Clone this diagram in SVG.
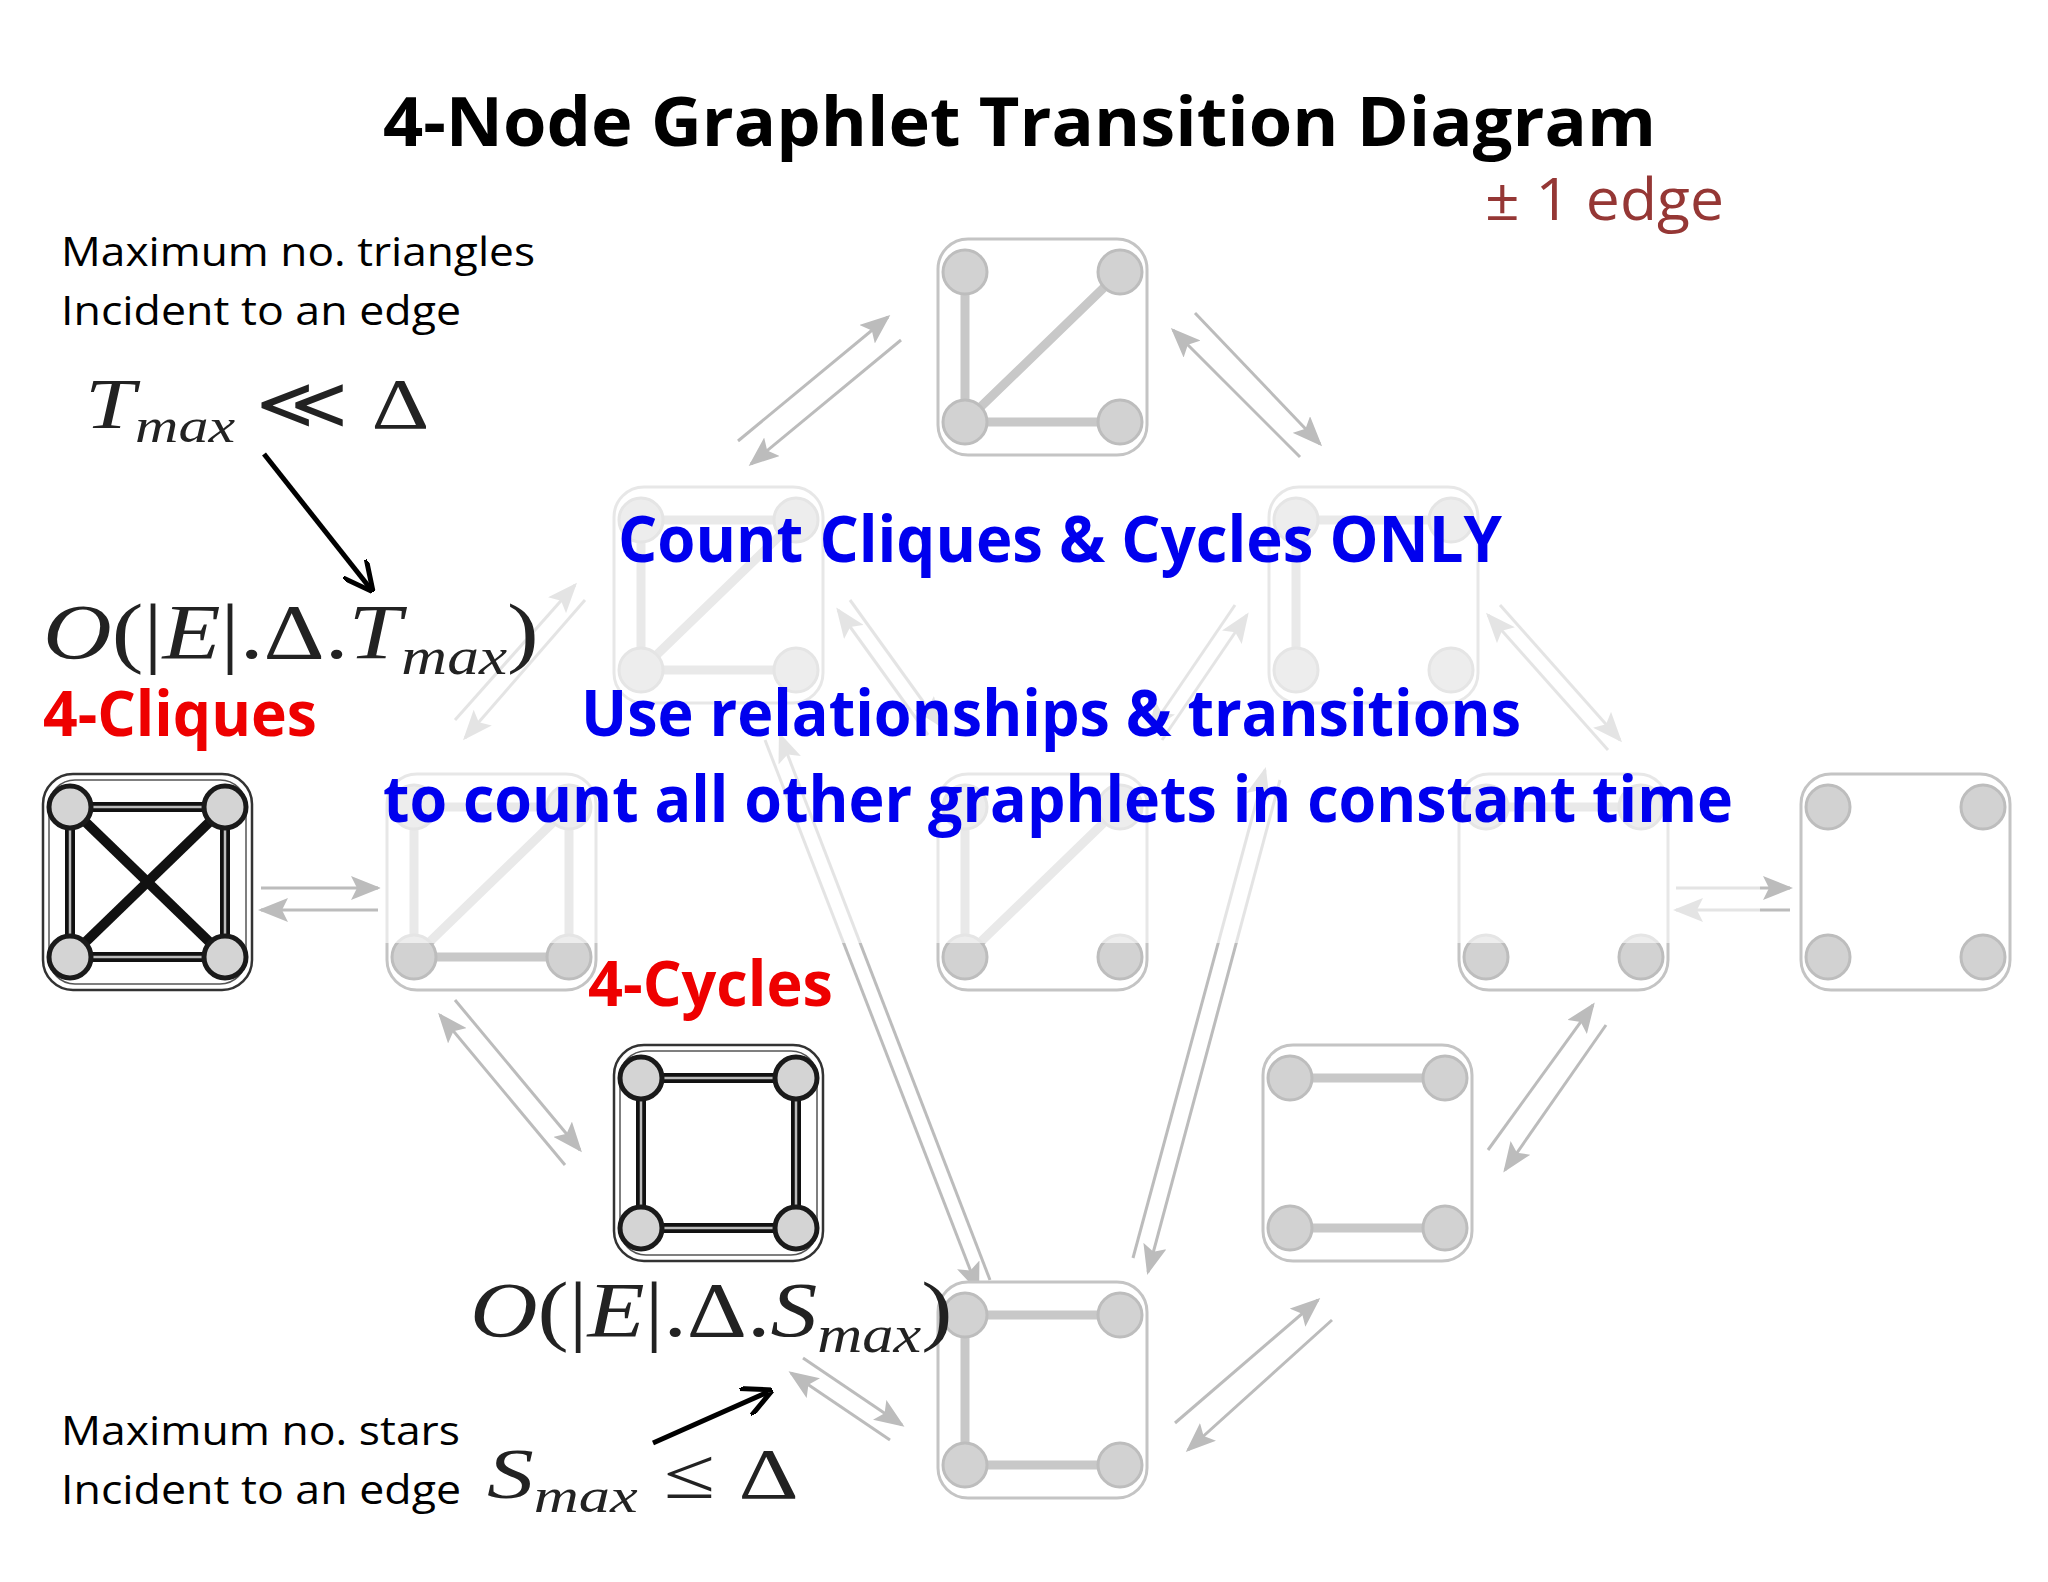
<svg xmlns="http://www.w3.org/2000/svg" width="2048" height="1582" viewBox="0 0 2048 1582">
<defs>
<style>
.box{fill:#fff;stroke:#c4c4c4;stroke-width:3}
.e{stroke:#c8c8c8;stroke-width:9;stroke-linecap:round}
.v{fill:#d2d2d2;stroke:#bdbdbd;stroke-width:3}
.bbox{fill:#fff;stroke:#333;stroke-width:2.5}
.be{stroke:#111;stroke-width:10}
.bi{stroke:#bbb;stroke-width:2.5}
.bv{fill:#d4d4d4;stroke:#1a1a1a;stroke-width:5}
.a{stroke:#bcbcbc;stroke-width:3;fill:none;marker-end:url(#ga)}
.k{stroke:#000;stroke-width:5;fill:none;marker-end:url(#ka)}
.t{font-family:"Open Sans","Noto Sans",sans-serif}
.bl{font-family:"Open Sans","Noto Sans",sans-serif;font-weight:bold;fill:#0000ee;font-size:64px}
.rd{font-family:"Open Sans","Noto Sans",sans-serif;font-weight:bold;fill:#ee0000;font-size:62px}
.m{font-family:"Liberation Serif",serif;fill:#222}
</style>
<marker id="ga" markerWidth="10" markerHeight="8" refX="9" refY="4" orient="auto" markerUnits="strokeWidth"><path d="M0,0 L10,4 L0,8 L2,4 z" fill="#bcbcbc"/></marker>
<marker id="ka" markerWidth="6" markerHeight="6" refX="5" refY="3" orient="auto" markerUnits="strokeWidth"><path d="M0,0 L6,3 L0,6" fill="none" stroke="#000" stroke-width="1"/></marker>
</defs>
<rect width="2048" height="1582" fill="#fff"/>

<g id="connectors">
<line class="a" x1="738" y1="441" x2="888" y2="317"/>
<line class="a" x1="901" y1="340" x2="751" y2="464"/>
<line class="a" x1="1300" y1="457" x2="1173" y2="330"/>
<line class="a" x1="1195" y1="313" x2="1320" y2="444"/>
<line class="a" x1="455" y1="720" x2="575" y2="585"/>
<line class="a" x1="585" y1="600" x2="465" y2="738"/>
<line class="a" x1="850" y1="600" x2="940" y2="725"/>
<line class="a" x1="928" y1="735" x2="838" y2="610"/>
<line class="a" x1="1235" y1="605" x2="1150" y2="730"/>
<line class="a" x1="1162" y1="740" x2="1247" y2="615"/>
<line class="a" x1="1500" y1="605" x2="1620" y2="740"/>
<line class="a" x1="1608" y1="750" x2="1488" y2="615"/>
<line class="a" x1="261" y1="888" x2="378" y2="888"/>
<line class="a" x1="378" y1="910" x2="261" y2="910"/>
<line class="a" x1="1676" y1="888" x2="1790" y2="888"/>
<line class="a" x1="1790" y1="910" x2="1676" y2="910"/>
<line class="a" x1="455" y1="1000" x2="580" y2="1150"/>
<line class="a" x1="565" y1="1165" x2="440" y2="1015"/>
<line class="a" x1="765" y1="740" x2="978" y2="1290"/>
<line class="a" x1="990" y1="1280" x2="780" y2="735"/>
<line class="a" x1="1280" y1="780" x2="1148" y2="1272"/>
<line class="a" x1="1133" y1="1258" x2="1265" y2="770"/>
<line class="a" x1="1175" y1="1423" x2="1318" y2="1300"/>
<line class="a" x1="1332" y1="1320" x2="1188" y2="1450"/>
<line class="a" x1="1488" y1="1150" x2="1593" y2="1005"/>
<line class="a" x1="1606" y1="1025" x2="1505" y2="1170"/>
<line class="a" x1="803" y1="1358" x2="902" y2="1425"/>
<line class="a" x1="890" y1="1440" x2="791" y2="1373"/>
<line class="k" x1="264" y1="454" x2="370" y2="588"/>
<line class="k" x1="653" y1="1443" x2="768" y2="1392"/>
</g>

<g id="n-top" transform="translate(938,239)"><rect class="box" width="209" height="216" rx="30"/><line class="e" x1="27" y1="33" x2="27" y2="183"/><line class="e" x1="27" y1="183" x2="182" y2="183"/><line class="e" x1="27" y1="183" x2="182" y2="33"/><circle class="v" cx="27" cy="33" r="22"/><circle class="v" cx="182" cy="33" r="22"/><circle class="v" cx="27" cy="183" r="22"/><circle class="v" cx="182" cy="183" r="22"/></g>
<g id="n-a" transform="translate(614,487)"><rect class="box" width="209" height="216" rx="30"/><line class="e" x1="27" y1="33" x2="182" y2="33"/><line class="e" x1="27" y1="33" x2="27" y2="183"/><line class="e" x1="27" y1="183" x2="182" y2="183"/><line class="e" x1="27" y1="183" x2="182" y2="33"/><circle class="v" cx="27" cy="33" r="22"/><circle class="v" cx="182" cy="33" r="22"/><circle class="v" cx="27" cy="183" r="22"/><circle class="v" cx="182" cy="183" r="22"/></g>
<g id="n-b" transform="translate(1269,487)"><rect class="box" width="209" height="216" rx="30"/><line class="e" x1="27" y1="33" x2="182" y2="33"/><line class="e" x1="27" y1="33" x2="27" y2="183"/><circle class="v" cx="27" cy="33" r="22"/><circle class="v" cx="182" cy="33" r="22"/><circle class="v" cx="27" cy="183" r="22"/><circle class="v" cx="182" cy="183" r="22"/></g>
<g id="n-clique" transform="translate(43,774)"><rect class="bbox" width="209" height="216" rx="30"/><rect x="6" y="6" width="197" height="204" rx="26" fill="none" stroke="#555" stroke-width="1.5"/><g class="be"><line x1="27" y1="33" x2="182" y2="33"/><line x1="27" y1="183" x2="182" y2="183"/><line x1="27" y1="33" x2="27" y2="183"/><line x1="182" y1="33" x2="182" y2="183"/><line x1="27" y1="33" x2="182" y2="183"/><line x1="182" y1="33" x2="27" y2="183"/></g><g class="bi"><line x1="27" y1="33" x2="182" y2="33"/><line x1="27" y1="183" x2="182" y2="183"/><line x1="27" y1="33" x2="27" y2="183"/><line x1="182" y1="33" x2="182" y2="183"/></g><circle class="bv" cx="27" cy="33" r="21"/><circle class="bv" cx="182" cy="33" r="21"/><circle class="bv" cx="27" cy="183" r="21"/><circle class="bv" cx="182" cy="183" r="21"/></g>
<g id="n-c" transform="translate(387,774)"><rect class="box" width="209" height="216" rx="30"/><line class="e" x1="27" y1="33" x2="182" y2="33"/><line class="e" x1="27" y1="33" x2="27" y2="183"/><line class="e" x1="182" y1="33" x2="182" y2="183"/><line class="e" x1="27" y1="183" x2="182" y2="183"/><line class="e" x1="27" y1="183" x2="182" y2="33"/><circle class="v" cx="27" cy="33" r="22"/><circle class="v" cx="182" cy="33" r="22"/><circle class="v" cx="27" cy="183" r="22"/><circle class="v" cx="182" cy="183" r="22"/></g>
<g id="n-d" transform="translate(938,774)"><rect class="box" width="209" height="216" rx="30"/><line class="e" x1="27" y1="33" x2="27" y2="183"/><line class="e" x1="27" y1="183" x2="182" y2="33"/><circle class="v" cx="27" cy="33" r="22"/><circle class="v" cx="182" cy="33" r="22"/><circle class="v" cx="27" cy="183" r="22"/><circle class="v" cx="182" cy="183" r="22"/></g>
<g id="n-e" transform="translate(1459,774)"><rect class="box" width="209" height="216" rx="30"/><line class="e" x1="27" y1="33" x2="182" y2="33"/><circle class="v" cx="27" cy="33" r="22"/><circle class="v" cx="182" cy="33" r="22"/><circle class="v" cx="27" cy="183" r="22"/><circle class="v" cx="182" cy="183" r="22"/></g>
<g id="n-f" transform="translate(1801,774)"><rect class="box" width="209" height="216" rx="30"/><circle class="v" cx="27" cy="33" r="22"/><circle class="v" cx="182" cy="33" r="22"/><circle class="v" cx="27" cy="183" r="22"/><circle class="v" cx="182" cy="183" r="22"/></g>
<g id="n-cycle" transform="translate(614,1045)"><rect class="bbox" width="209" height="216" rx="30"/><rect x="6" y="6" width="197" height="204" rx="26" fill="none" stroke="#555" stroke-width="1.5"/><g class="be"><line x1="27" y1="33" x2="182" y2="33"/><line x1="27" y1="183" x2="182" y2="183"/><line x1="27" y1="33" x2="27" y2="183"/><line x1="182" y1="33" x2="182" y2="183"/></g><g class="bi"><line x1="27" y1="33" x2="182" y2="33"/><line x1="27" y1="183" x2="182" y2="183"/><line x1="27" y1="33" x2="27" y2="183"/><line x1="182" y1="33" x2="182" y2="183"/></g><circle class="bv" cx="27" cy="33" r="21"/><circle class="bv" cx="182" cy="33" r="21"/><circle class="bv" cx="27" cy="183" r="21"/><circle class="bv" cx="182" cy="183" r="21"/></g>
<g id="n-g" transform="translate(1263,1045)"><rect class="box" width="209" height="216" rx="30"/><line class="e" x1="27" y1="33" x2="182" y2="33"/><line class="e" x1="27" y1="183" x2="182" y2="183"/><circle class="v" cx="27" cy="33" r="22"/><circle class="v" cx="182" cy="33" r="22"/><circle class="v" cx="27" cy="183" r="22"/><circle class="v" cx="182" cy="183" r="22"/></g>
<g id="n-h" transform="translate(938,1282)"><rect class="box" width="209" height="216" rx="30"/><line class="e" x1="27" y1="33" x2="182" y2="33"/><line class="e" x1="27" y1="33" x2="27" y2="183"/><line class="e" x1="27" y1="183" x2="182" y2="183"/><circle class="v" cx="27" cy="33" r="22"/><circle class="v" cx="182" cy="33" r="22"/><circle class="v" cx="27" cy="183" r="22"/><circle class="v" cx="182" cy="183" r="22"/></g>

<rect x="380" y="470" width="1380" height="473" fill="#fff" opacity="0.6"/>

<g id="texts">
<text class="t" x="383" y="146" font-size="68" font-weight="bold" fill="#000" textLength="1273" lengthAdjust="spacingAndGlyphs">4-Node Graphlet Transition Diagram</text>
<text class="t" x="1485" y="220" font-size="58" fill="#953735" textLength="239" lengthAdjust="spacingAndGlyphs">± 1 edge</text>
<text class="t" x="61" y="266" font-size="41" fill="#000" textLength="474" lengthAdjust="spacingAndGlyphs">Maximum no. triangles</text>
<text class="t" x="61" y="325" font-size="41" fill="#000" textLength="400" lengthAdjust="spacingAndGlyphs">Incident  to an edge</text>
<g transform="translate(85,428) scale(1.25,1)"><text class="m" x="0" y="0" font-size="72"><tspan font-style="italic">T</tspan><tspan font-style="italic" font-size="48" dy="14">max</tspan><tspan dy="-14" dx="16">≪ Δ</tspan></text></g>
<g transform="translate(43,658) scale(1.22,1)"><text class="m" x="0" y="0" font-size="78"><tspan font-style="italic">O</tspan><tspan>(|</tspan><tspan font-style="italic">E</tspan><tspan>|.Δ.</tspan><tspan font-style="italic">T</tspan><tspan font-style="italic" font-size="52" dy="16">max</tspan><tspan dy="-16">)</tspan></text></g>
<text class="rd" x="43" y="736" textLength="274" lengthAdjust="spacingAndGlyphs">4-Cliques</text>
<text class="bl" x="618" y="562" textLength="884" lengthAdjust="spacingAndGlyphs">Count Cliques &amp; Cycles ONLY</text>
<text class="bl" x="581" y="736" textLength="940" lengthAdjust="spacingAndGlyphs">Use relationships &amp; transitions</text>
<text class="bl" x="383" y="822" textLength="1350" lengthAdjust="spacingAndGlyphs">to count all other graphlets in constant time</text>
<text class="rd" x="588" y="1006" textLength="245" lengthAdjust="spacingAndGlyphs">4-Cycles</text>
<g transform="translate(470,1336) scale(1.2,1)"><text class="m" x="0" y="0" font-size="78"><tspan font-style="italic">O</tspan><tspan>(|</tspan><tspan font-style="italic">E</tspan><tspan>|.Δ.</tspan><tspan font-style="italic">S</tspan><tspan font-style="italic" font-size="52" dy="16">max</tspan><tspan dy="-16">)</tspan></text></g>
<text class="t" x="61" y="1445" font-size="41" fill="#000" textLength="399" lengthAdjust="spacingAndGlyphs">Maximum no. stars</text>
<text class="t" x="61" y="1504" font-size="41" fill="#000" textLength="400" lengthAdjust="spacingAndGlyphs">Incident  to an edge</text>
<g transform="translate(487,1498) scale(1.3,1)"><text class="m" x="0" y="0" font-size="72"><tspan font-style="italic">S</tspan><tspan font-style="italic" font-size="48" dy="14">max</tspan><tspan dy="-14" dx="20">≤ Δ</tspan></text></g>
</g>
</svg>
